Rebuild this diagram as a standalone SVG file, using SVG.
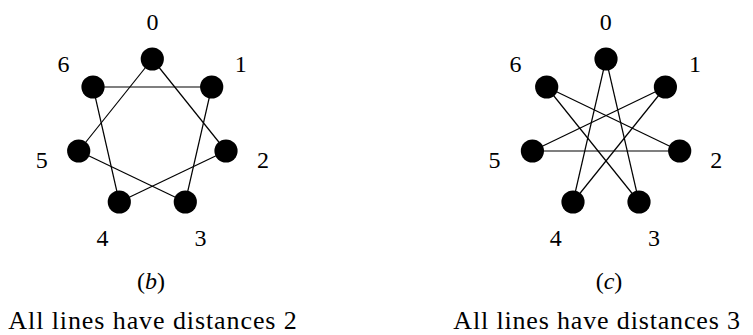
<svg xmlns="http://www.w3.org/2000/svg" width="753" height="335" viewBox="0 0 753 335">
<style>
.n{fill:#000}
.e{stroke:#000;stroke-width:1.2;fill:none}
</style>
<rect width="753" height="335" fill="#fff"/>
<g id="connectors-b">
<line class="e" x1="152.3" y1="59" x2="226" y2="151"/>
<line class="e" x1="211.7" y1="87" x2="185.3" y2="202"/>
<line class="e" x1="226" y1="151" x2="119.3" y2="202"/>
<line class="e" x1="185.3" y1="202" x2="78.7" y2="151"/>
<line class="e" x1="119.3" y1="202" x2="93" y2="87"/>
<line class="e" x1="78.7" y1="151" x2="152.3" y2="59"/>
<line class="e" x1="93" y1="87" x2="211.7" y2="87"/>
</g>
<g id="connectors-c">
<line class="e" x1="606" y1="59" x2="639" y2="202"/>
<line class="e" x1="665.4" y1="87" x2="573" y2="202"/>
<line class="e" x1="679.7" y1="151" x2="532.4" y2="151"/>
<line class="e" x1="639" y1="202" x2="546.7" y2="87"/>
<line class="e" x1="573" y1="202" x2="606" y2="59"/>
<line class="e" x1="532.4" y1="151" x2="665.4" y2="87"/>
<line class="e" x1="546.7" y1="87" x2="679.7" y2="151"/>
</g>
<g id="b-node0"><circle class="n" cx="152.3" cy="59" r="11.6"/><text font-family="Liberation Serif" font-size="24" text-anchor="middle" x="152.5" y="29.5">0</text></g>
<g id="b-node1"><circle class="n" cx="211.7" cy="87" r="11.6"/><text font-family="Liberation Serif" font-size="24" text-anchor="middle" x="240.8" y="71.5">1</text></g>
<g id="b-node2"><circle class="n" cx="226" cy="151" r="11.6"/><text font-family="Liberation Serif" font-size="24" text-anchor="middle" x="263" y="168">2</text></g>
<g id="b-node3"><circle class="n" cx="185.3" cy="202" r="11.6"/><text font-family="Liberation Serif" font-size="24" text-anchor="middle" x="200.5" y="245.5">3</text></g>
<g id="b-node4"><circle class="n" cx="119.3" cy="202" r="11.6"/><text font-family="Liberation Serif" font-size="24" text-anchor="middle" x="102.5" y="245.5">4</text></g>
<g id="b-node5"><circle class="n" cx="78.7" cy="151" r="11.6"/><text font-family="Liberation Serif" font-size="24" text-anchor="middle" x="41.7" y="168">5</text></g>
<g id="b-node6"><circle class="n" cx="93" cy="87" r="11.6"/><text font-family="Liberation Serif" font-size="24" text-anchor="middle" x="63.5" y="71.5">6</text></g>
<g id="c-node0"><circle class="n" cx="606" cy="59" r="11.6"/><text font-family="Liberation Serif" font-size="24" text-anchor="middle" x="605.8" y="29.5">0</text></g>
<g id="c-node1"><circle class="n" cx="665.4" cy="87" r="11.6"/><text font-family="Liberation Serif" font-size="24" text-anchor="middle" x="695" y="71.5">1</text></g>
<g id="c-node2"><circle class="n" cx="679.7" cy="151" r="11.6"/><text font-family="Liberation Serif" font-size="24" text-anchor="middle" x="716.3" y="168">2</text></g>
<g id="c-node3"><circle class="n" cx="639" cy="202" r="11.6"/><text font-family="Liberation Serif" font-size="24" text-anchor="middle" x="654" y="245.5">3</text></g>
<g id="c-node4"><circle class="n" cx="573" cy="202" r="11.6"/><text font-family="Liberation Serif" font-size="24" text-anchor="middle" x="555.7" y="245.5">4</text></g>
<g id="c-node5"><circle class="n" cx="532.4" cy="151" r="11.6"/><text font-family="Liberation Serif" font-size="24" text-anchor="middle" x="494.5" y="168">5</text></g>
<g id="c-node6"><circle class="n" cx="546.7" cy="87" r="11.6"/><text font-family="Liberation Serif" font-size="24" text-anchor="middle" x="515.5" y="71.5">6</text></g>
<g id="captions">
<text font-family="Liberation Serif" font-size="24" text-anchor="middle" x="151" y="289">(<tspan font-style="italic">b</tspan>)</text>
<text font-family="Liberation Serif" font-size="24" text-anchor="middle" x="609" y="289">(<tspan font-style="italic">c</tspan>)</text>
<text font-family="Liberation Serif" font-size="26" x="8.3" y="329" textLength="288.5" lengthAdjust="spacing">All lines have distances 2</text>
<text font-family="Liberation Serif" font-size="26" x="453.3" y="329" textLength="286.7" lengthAdjust="spacing">All lines have distances 3</text>
</g>
</svg>
